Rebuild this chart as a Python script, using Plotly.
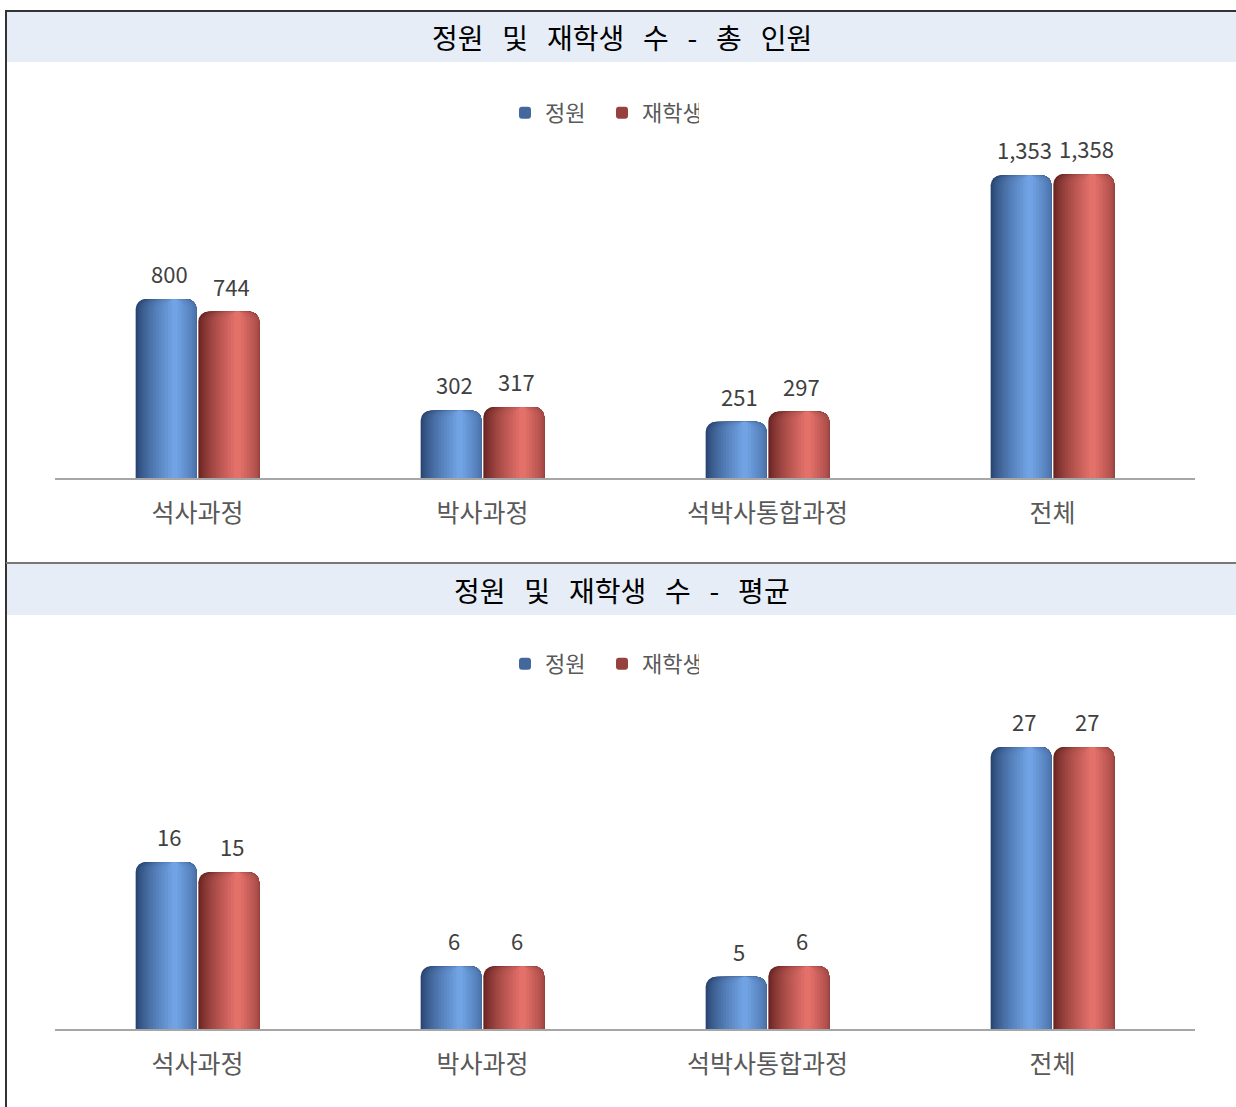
import plotly.graph_objects as go

# ---- data -------------------------------------------------------------
categories = ["석사과정", "박사과정", "석박사통합과정", "전체"]
series_names = ["정원", "재학생"]
total_quota = [800, 302, 251, 1353]
total_enrolled = [744, 317, 297, 1358]
avg_quota = [16, 6, 5, 27]
avg_enrolled = [15, 6, 6, 27]
panel_titles = ["정원   및   재학생   수   -   총   인원", "정원   및   재학생   수   -   평균"]

# ---- page geometry (pixels) ---------------------------------------------
FIG_W, FIG_H = 1236, 1107
PLOT_L, PLOT_R = 55, 1195
PLOT_T, PLOT_B = 0, 1029
FONT = "Noto Sans CJK KR"


def px_x(px):
    return (px - PLOT_L) / (PLOT_R - PLOT_L)


def px_y(py):
    return (PLOT_B - py) / (PLOT_B - PLOT_T)


# ---- cylinder-style shading built from stacked, narrowing bars ---------
BAR_W = 0.214
BAR_GAP = 0.006
HIGHLIGHT = 0.64
N_LAYERS = 16
SHADES = [
    {"edge": (38, 66, 110), "peak": (112, 162, 228)},   # blue
    {"edge": (100, 34, 32), "peak": (228, 112, 106)},   # red
]
LEGEND_LAYER = 6


def mix(c1, c2, t):
    r, g, b = (round(a + (b_ - a) * t) for a, b_ in zip(c1, c2))
    return f"rgb({r},{g},{b})"


def layer_spans():
    spans = []
    tmax = (N_LAYERS - 1) / N_LAYERS
    for k in range(N_LAYERS):
        t = k / N_LAYERS
        a = HIGHLIGHT * t ** 1.4
        if t <= 0.45:
            b = 1.0
        else:
            b = 1 - (1 - HIGHLIGHT) * ((t - 0.45) / 0.55) ** 1.4
        spans.append((t / tmax, a, b))
    return spans


positions = list(range(len(categories)))
panels = [
    {"values": [total_quota, total_enrolled], "xa": "x", "ya": "y", "legend": "legend"},
    {"values": [avg_quota, avg_enrolled], "xa": "x2", "ya": "y2", "legend": "legend2"},
]

fig = go.Figure()
annotations = []

for p in panels:
    for s, vals in enumerate(p["values"]):
        left = -BAR_W - BAR_GAP / 2 if s == 0 else BAR_GAP / 2
        for k, (t, a, b) in enumerate(layer_spans()):
            fig.add_trace(go.Bar(
                x=positions, y=vals,
                xaxis=p["xa"], yaxis=p["ya"],
                offset=left + a * BAR_W,
                width=(b - a) * BAR_W,
                marker=dict(color=mix(SHADES[s]["edge"], SHADES[s]["peak"], t),
                            cornerradius=10, line=dict(width=0)),
                name=series_names[s],
                legend=p["legend"],
                showlegend=(k == LEGEND_LAYER),
                hoverinfo="skip",
            ))
        center = left + BAR_W / 2
        for i, v in zip(positions, vals):
            annotations.append(dict(
                x=i + center + 0.01, y=v, xref=p["xa"], yref=p["ya"],
                text=f"{v:,}", showarrow=False, yanchor="middle", yshift=26,
                font=dict(family=FONT, size=22, color="#404040"),
            ))

# panel titles
for title, cy in zip(panel_titles, [37, 590]):
    annotations.append(dict(
        x=px_x(622), y=px_y(cy), xref="paper", yref="paper",
        text=title, showarrow=False, xanchor="center", yanchor="middle",
        font=dict(family=FONT, size=28, color="#000000"),
    ))

shapes = [
    # title bands
    dict(type="rect", xref="paper", yref="paper", layer="below",
         x0=px_x(6), x1=px_x(FIG_W), y0=px_y(12), y1=px_y(62),
         fillcolor="#E6EDF7", line=dict(width=0)),
    dict(type="rect", xref="paper", yref="paper", layer="below",
         x0=px_x(6), x1=px_x(FIG_W), y0=px_y(564), y1=px_y(615),
         fillcolor="#E6EDF7", line=dict(width=0)),
    # frame lines
    dict(type="line", xref="paper", yref="paper",
         x0=px_x(5), x1=px_x(FIG_W), y0=px_y(11), y1=px_y(11),
         line=dict(color="#333333", width=2)),
    dict(type="line", xref="paper", yref="paper",
         x0=px_x(6), x1=px_x(6), y0=px_y(10), y1=px_y(FIG_H),
         line=dict(color="#333333", width=2)),
    dict(type="line", xref="paper", yref="paper",
         x0=px_x(6), x1=px_x(FIG_W), y0=px_y(563), y1=px_y(563),
         line=dict(color="#777777", width=2)),
]

xaxis_style = dict(
    range=[-0.5, len(categories) - 0.5],
    tickmode="array", tickvals=positions, ticktext=categories,
    showline=True, linecolor="#A6A6A6", linewidth=2,
    showgrid=False, zeroline=False, ticks="", ticklabelstandoff=12,
    tickfont=dict(family=FONT, size=25, color="#595959"),
    fixedrange=True,
)
yaxis_style = dict(visible=False, showgrid=False, zeroline=False, fixedrange=True)

legend_style = dict(
    orientation="h", xanchor="left", x=px_x(505), yanchor="middle",
    font=dict(family=FONT, size=22, color="#595959"),
    entrywidth=52, bgcolor="rgba(0,0,0,0)", traceorder="normal",
)

fig.update_layout(
    width=FIG_W, height=FIG_H,
    margin=dict(l=PLOT_L, r=FIG_W - PLOT_R, t=PLOT_T, b=FIG_H - PLOT_B),
    paper_bgcolor="white", plot_bgcolor="white",
    barmode="overlay",
    xaxis=dict(xaxis_style, anchor="y"),
    xaxis2=dict(xaxis_style, anchor="y2"),
    yaxis=dict(yaxis_style, domain=[px_y(478), px_y(130)], range=[0, 1555]),
    yaxis2=dict(yaxis_style, domain=[0, px_y(700)], range=[0, 31.5]),
    legend=dict(legend_style, y=px_y(113)),
    legend2=dict(legend_style, y=px_y(664)),
    annotations=annotations,
    shapes=shapes,
    showlegend=True,
    font=dict(family=FONT),
)

fig.write_html("out.html")
